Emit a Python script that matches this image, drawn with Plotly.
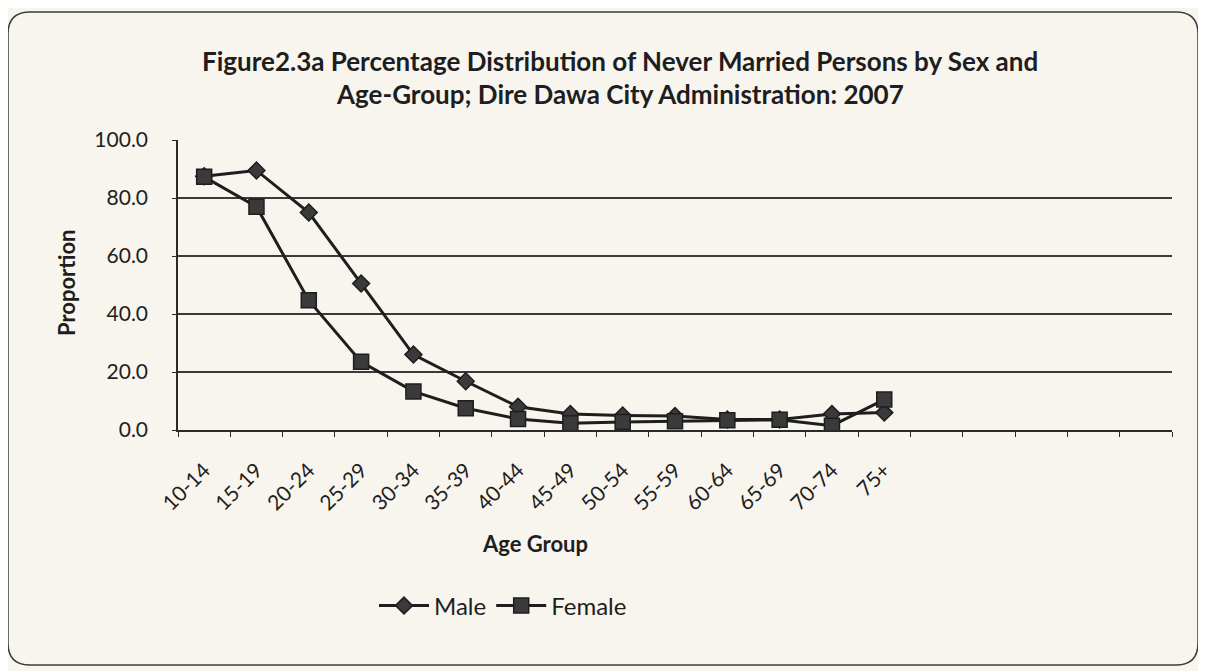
import plotly.graph_objects as go

age_groups = ["10-14", "15-19", "20-24", "25-29", "30-34", "35-39", "40-44",
              "45-49", "50-54", "55-59", "60-64", "65-69", "70-74", "75+"]
male = [87.5, 89.5, 75.0, 50.5, 26.0, 16.8, 8.0, 5.5, 5.0, 4.8, 3.6, 3.6, 5.5, 6.0]
female = [87.3, 77.0, 44.7, 23.5, 13.3, 7.5, 3.8, 2.3, 2.8, 3.0, 3.4, 3.5, 1.5, 10.5]
y_ticks = [0, 20, 40, 60, 80, 100]
n_slots = 19  # category slots on the axis (last ones empty in the original)

OFF = 8  # page body margin
W, H = 1206 - OFF, 671 - OFF
L, R, T, B = 178 - OFF, 1172 - OFF, 140 - OFF, 430 - OFF
BG = "#f8f5ef"
INK = "#1e1e1e"
FONT = "Lato"


def px_x(p):
    """reference-screen x pixel -> paper coordinate"""
    return (p - OFF - L) / (R - L)


def px_y(p):
    """reference-screen y pixel -> paper coordinate"""
    return (B - (p - OFF)) / (B - T)


x_idx = list(range(len(age_groups)))

fig = go.Figure()
fig.add_trace(go.Scatter(
    x=x_idx, y=male, name="Male", mode="lines+markers",
    line=dict(color=INK, width=3),
    marker=dict(symbol="diamond", size=13, color="#3a3a3a",
                line=dict(color=INK, width=1.5)),
))
fig.add_trace(go.Scatter(
    x=x_idx, y=female, name="Female", mode="lines+markers",
    line=dict(color=INK, width=3),
    marker=dict(symbol="square", size=15, color="#3a3a3a",
                line=dict(color=INK, width=1.5)),
))

# rounded frame around the whole chart (reference pixels)
x0, x1, y0, y1, r = 8, 1198, 12, 665, 22
path = (f"M {px_x(x0 + r)},{px_y(y0)} L {px_x(x1 - r)},{px_y(y0)} "
        f"Q {px_x(x1)},{px_y(y0)} {px_x(x1)},{px_y(y0 + r)} "
        f"L {px_x(x1)},{px_y(y1 - r)} Q {px_x(x1)},{px_y(y1)} {px_x(x1 - r)},{px_y(y1)} "
        f"L {px_x(x0 + r)},{px_y(y1)} Q {px_x(x0)},{px_y(y1)} {px_x(x0)},{px_y(y1 - r)} "
        f"L {px_x(x0)},{px_y(y0 + r)} Q {px_x(x0)},{px_y(y0)} {px_x(x0 + r)},{px_y(y0)} Z")

title_lines = ["Figure2.3a Percentage Distribution of Never Married Persons by Sex and",
               "Age-Group; Dire Dawa City Administration: 2007"]

fig.update_layout(
    width=W, height=H,
    margin=dict(l=L, r=W - R, t=T, b=H - B, autoexpand=False),
    paper_bgcolor=BG, plot_bgcolor=BG,
    font=dict(family=FONT, color=INK, size=21),
    showlegend=True,
    legend=dict(orientation="h", x=px_x(503), y=px_y(606), xanchor="center",
                yanchor="middle", bgcolor="rgba(0,0,0,0)",
                font=dict(family=FONT, size=24, color=INK),
                itemwidth=50, tracegroupgap=0),
    shapes=[dict(type="path", path=path, xref="paper", yref="paper",
                 line=dict(color="#3c3c3c", width=1.5), layer="below")],
    annotations=[
        dict(text=f"<b>{title_lines[0]}</b>", x=px_x(620), y=px_y(61), xref="paper",
             yref="paper", showarrow=False, font=dict(family=FONT, size=26, color=INK),
             xanchor="center", yanchor="middle"),
        dict(text=f"<b>{title_lines[1]}</b>", x=px_x(620), y=px_y(94), xref="paper",
             yref="paper", showarrow=False, font=dict(family=FONT, size=26, color=INK),
             xanchor="center", yanchor="middle"),
        dict(text="<b>Age Group</b>", x=px_x(535), y=px_y(543), xref="paper",
             yref="paper", showarrow=False, font=dict(family=FONT, size=22, color=INK),
             xanchor="center", yanchor="middle"),
        dict(text="<b>Proportion</b>", x=px_x(66), y=px_y(283), xref="paper",
             yref="paper", showarrow=False, textangle=-90,
             font=dict(family=FONT, size=22, color=INK),
             xanchor="center", yanchor="middle"),
    ],
)

fig.update_xaxes(
    range=[-0.5, n_slots - 0.5],
    tickmode="array", tickvals=x_idx, ticktext=age_groups,
    tickangle=-45, ticks="", ticklabelstandoff=18,
    showgrid=False, zeroline=False,
    showline=True, linecolor="#2a2a2a", linewidth=1.5,
    minor=dict(tickmode="array", tickvals=[i - 0.5 for i in range(n_slots + 1)],
               ticks="outside", ticklen=5, tickcolor="#2a2a2a", tickwidth=1.2,
               showgrid=False),
    tickfont=dict(family=FONT, size=21, color=INK),
)
fig.update_yaxes(
    range=[0, 100], tickmode="array", tickvals=y_ticks,
    ticktext=[f"{v:.1f}" for v in y_ticks],
    showgrid=True, gridcolor="#3a3a3a", gridwidth=1.5,
    zeroline=False, showline=True, linecolor="#2a2a2a", linewidth=1.5,
    ticks="outside", ticklen=4, tickcolor="#2a2a2a", ticklabelstandoff=20,
    tickfont=dict(family=FONT, size=21, color=INK),
)

fig.write_html("out.html")
